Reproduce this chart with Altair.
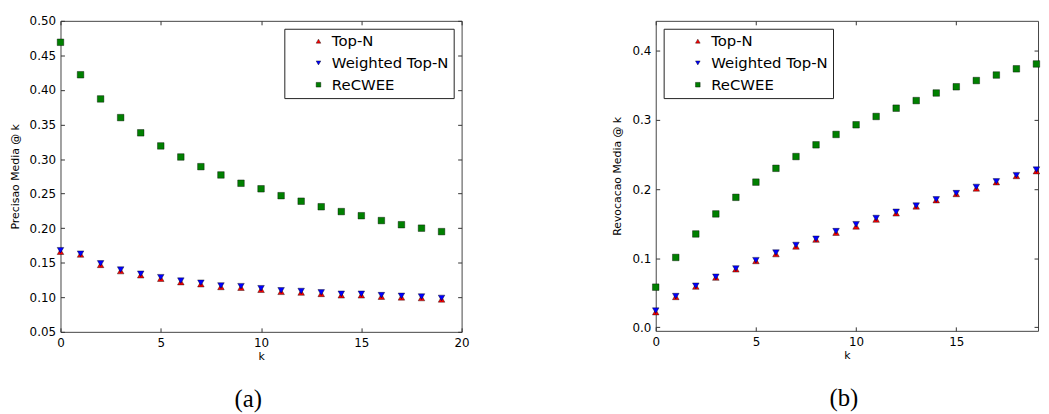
import altair as alt
import pandas as pd

series = ["Top-N", "Weighted Top-N", "ReCWEE"]
k = list(range(20))

prec_topn = [0.166, 0.162, 0.147, 0.138, 0.132, 0.127, 0.122, 0.119, 0.115, 0.114,
             0.111, 0.108, 0.107, 0.105, 0.103, 0.103, 0.101, 0.100, 0.099, 0.097]
prec_weighted = [0.168, 0.163, 0.149, 0.140, 0.134, 0.129, 0.124, 0.121, 0.117, 0.116,
                 0.113, 0.110, 0.109, 0.107, 0.105, 0.105, 0.103, 0.102, 0.101, 0.099]
prec_recwee = [0.469, 0.422, 0.387, 0.360, 0.338, 0.319, 0.303, 0.289, 0.277, 0.265,
               0.257, 0.247, 0.239, 0.231, 0.224, 0.218, 0.211, 0.205, 0.200, 0.195]

rec_topn = [0.022, 0.044, 0.059, 0.072, 0.084, 0.096, 0.106, 0.117, 0.127, 0.137,
            0.146, 0.156, 0.165, 0.175, 0.184, 0.193, 0.201, 0.210, 0.219, 0.226]
rec_weighted = [0.024, 0.045, 0.060, 0.073, 0.085, 0.097, 0.108, 0.119, 0.128, 0.139,
                0.149, 0.158, 0.167, 0.176, 0.185, 0.194, 0.203, 0.211, 0.220, 0.228]
rec_recwee = [0.058, 0.101, 0.135, 0.164, 0.188, 0.210, 0.230, 0.247, 0.264, 0.279,
              0.293, 0.305, 0.317, 0.328, 0.339, 0.348, 0.357, 0.365, 0.374, 0.381]

prec_xticks = [0, 5, 10, 15, 20]
prec_yticks = [0.05, 0.10, 0.15, 0.20, 0.25, 0.30, 0.35, 0.40, 0.45, 0.50]
rec_xticks = [0, 5, 10, 15]
rec_yticks = [0.0, 0.1, 0.2, 0.3, 0.4]

colors = ["#ff0000", "#0000ff", "#008000"]
shapes = ["triangle-up", "triangle-down", "square"]


def make_df(a, b, c):
    rows = []
    for name, vals in zip(series, [a, b, c]):
        for kk, v in zip(k, vals):
            rows.append({"k": kk, "value": v, "series": name})
    return pd.DataFrame(rows)


def panel(df, xdomain, ydomain, xticks, yticks, yfmt, ytitle, legend_orient,
          caption, width, height, cap_dx):
    legend = alt.Legend(
        title=None, orient=legend_orient, offset=8, strokeColor="#222",
        fillColor="white", padding=5, symbolOffset=22, labelFontSize=15,
        labelFont="DejaVu Sans", labelColor="black", rowPadding=6,
        symbolSize=22, symbolStrokeColor="black", symbolStrokeWidth=0.4,
        labelOffset=6, cornerRadius=0,
    )
    xs = alt.Scale(domain=xdomain, nice=False, zero=False)
    ys = alt.Scale(domain=ydomain, nice=False, zero=False)
    xax = alt.Axis(values=xticks, format="d", title="k", orient="bottom",
                   offset=-4, tickSize=4, domain=False, grid=False,
                   labelPadding=6, titlePadding=2, labelFlush=False,
                   labelOverlap=False)
    yax = alt.Axis(values=yticks, format=yfmt, title=ytitle, orient="left",
                   offset=-4, tickSize=4, domain=False, grid=False,
                   labelPadding=5, titlePadding=9, labelFlush=False,
                   labelOverlap=False)
    pts = alt.Chart(df).mark_point(
        filled=True, opacity=1, stroke="black", strokeWidth=0.4, size=44
    ).encode(
        x=alt.X("k:Q", scale=xs, axis=xax),
        y=alt.Y("value:Q", scale=ys, axis=yax),
        color=alt.Color("series:N", scale=alt.Scale(domain=series, range=colors),
                        legend=legend),
        shape=alt.Shape("series:N", scale=alt.Scale(domain=series, range=shapes),
                        legend=legend),
    )
    ghost = alt.Chart(df).mark_point(opacity=0).encode(
        x=alt.X("k:Q", scale=xs,
                axis=alt.Axis(orient="top", values=xticks, labels=False,
                              title=None, domain=False, grid=False,
                              offset=-4, tickSize=4)),
        y=alt.Y("value:Q", scale=ys,
                axis=alt.Axis(orient="right", values=yticks, labels=False,
                              title=None, domain=False, grid=False,
                              offset=-4, tickSize=4)),
    )
    return alt.layer(pts, ghost).resolve_axis(
        x="independent", y="independent"
    ).properties(
        width=width, height=height,
        title=alt.TitleParams(text=caption, orient="bottom", font="Liberation Serif",
                              fontSize=25, fontWeight="normal", color="black",
                              offset=26, frame="group", anchor="middle", dx=cap_dx),
    )


left = panel(make_df(prec_topn, prec_weighted, prec_recwee), [0, 20], [0.05, 0.50],
             prec_xticks, prec_yticks, ".2f", "Precisao Media @ k", "top-right",
             "(a)", 405, 314, -13)
right = panel(make_df(rec_topn, rec_weighted, rec_recwee), [0, 19.08], [-0.0052, 0.4434],
              rec_xticks, rec_yticks, ".1f", "Revocacao Media @ k", "top-left",
              "(b)", 386, 313, -3)

chart = alt.hconcat(left, right, spacing=142).resolve_scale(
    color="independent", shape="independent"
).resolve_legend(color="independent", shape="independent").properties(
    padding={"left": 0, "top": 4, "right": 0, "bottom": 0}
).configure_view(stroke="#444", strokeWidth=1).configure_axis(
    labelFont="DejaVu Sans", labelFontSize=12, labelColor="black",
    titleFont="DejaVu Sans", titleFontSize=11, titleFontWeight="normal",
    titleColor="black", tickColor="#333", tickWidth=1,
)

chart.save("out.html", embed_options={"renderer": "svg", "actions": False})
